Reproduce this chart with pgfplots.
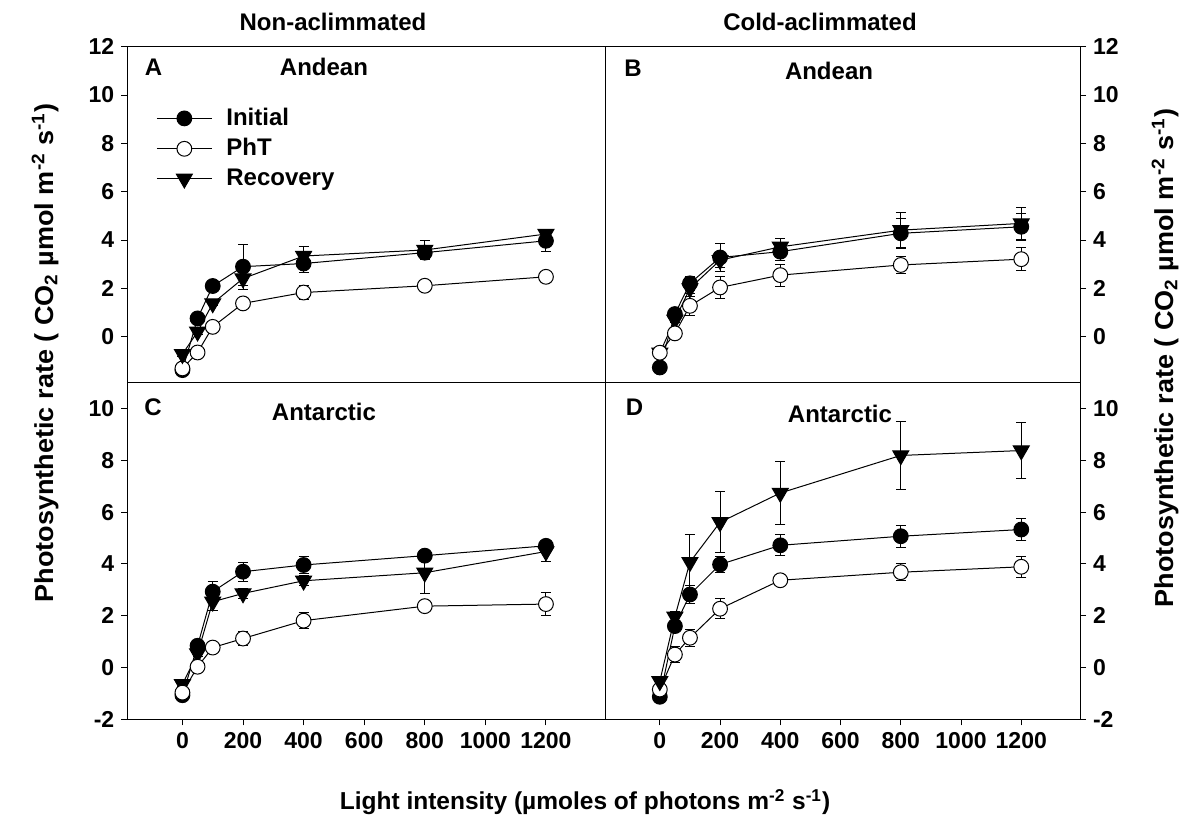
\documentclass[border=0pt]{standalone}
\usepackage{pgfplots}
\pgfplotsset{compat=1.18}
\usepackage{fontspec}
\setmainfont{Liberation Sans}
\newcommand{\tfont}{\fontsize{12}{14}\selectfont\bfseries}
\pgfplotsset{
 panel/.style={scale only axis, xmin=-182, xmax=1395,
   axis line style={line width=0.5pt},
   tick style={line width=0.5pt, black}, major tick length=3pt, tick align=outside,
   ticklabel style={font=\fontsize{11.5}{13}\selectfont\bfseries},
   /pgf/number format/assume math mode=true,
   /pgf/number format/1000 sep={},
   clip=false,
   every axis plot/.append style={line width=0.5pt, black},
   error bars/error bar style={line width=0.5pt},
   error bars/error mark options={rotate=90, mark size=2.5pt, line width=0.5pt}},
 toppan/.style={ymin=-1.9, ymax=12, ytick={0,2,...,12}, xtick=\empty, height=168pt},
 botpan/.style={ymin=-2, ymax=11, ytick={-2,0,...,10}, xtick={0,200,...,1200}, xtick pos=bottom, height=168.3pt},
 leftpan/.style={ytick pos=left, width=238.85pt},
 rightpan/.style={ytick pos=right, yticklabel pos=right, width=237.5pt},
 ini/.style={mark=*, mark size=3.7pt},
 pht/.style={mark=*, mark size=3.7pt, mark options={fill=white}},
 rec/.style={mark=triangle*, mark size=4.6pt, mark options={rotate=180}},
 eb/.style={error bars/.cd, y dir=both, y explicit},
}
\begin{document}
\begin{tikzpicture}
\useasboundingbox (0,0) rectangle (600pt,412.5pt);
% Panel A
\begin{axis}[panel, toppan, leftpan, at={(63.65pt,221.15pt)}, anchor=south west,
  legend style={draw=none, fill=none, at={(0.06,0.83)}, anchor=north west, font=\tfont, row sep=1pt, inner sep=0pt, cells={anchor=west}, nodes={inner xsep=7pt}},
  legend image code/.code={\draw[mark repeat=2,mark phase=2] plot coordinates {(0pt,0pt)(13.75pt,0pt)(27.5pt,0pt)};}]
\addplot[ini, eb] table[x=x,y=y,y error=e]{
x y e
0 -1.38 0.1
50 0.76 0.1
100 2.10 0.15
200 2.90 0.93
400 3.03 0.37
800 3.48 0.25
1200 3.97 0.45
};
\addlegendentry{Initial}
\addplot[pht, eb] table[x=x,y=y,y error=e]{
x y e
0 -1.31 0.1
50 -0.65 0.1
100 0.41 0.1
200 1.38 0.1
400 1.83 0.3
800 2.11 0.1
1200 2.48 0.1
};
\addlegendentry{PhT}
\addplot[rec, eb] table[x=x,y=y,y error=e]{
x y e
0 -0.72 0.1
50 0.21 0.1
100 1.38 0.1
200 2.41 0.3
400 3.34 0.4
800 3.59 0.38
1200 4.25 0.2
};
\addlegendentry{Recovery}
\end{axis}
% Panel B
\begin{axis}[panel, toppan, rightpan, at={(302.5pt,221.15pt)}, anchor=south west]
\addplot[ini, eb] table[x=x,y=y,y error=e]{
x y e
0 -1.27 0.1
50 0.94 0.1
100 2.21 0.3
200 3.28 0.58
400 3.52 0.35
800 4.28 0.62
1200 4.55 0.55
};
\addplot[rec, eb] table[x=x,y=y,y error=e]{
x y e
0 -0.66 0.1
50 0.70 0.1
100 2.00 0.2
200 3.17 0.3
400 3.72 0.35
800 4.41 0.72
1200 4.69 0.66
};
\addplot[pht, eb] table[x=x,y=y,y error=e]{
x y e
0 -0.66 0.1
50 0.14 0.1
100 1.28 0.38
200 2.04 0.45
400 2.55 0.45
800 2.97 0.35
1200 3.21 0.47
};
\end{axis}
% Panel C
\begin{axis}[panel, botpan, leftpan, at={(63.65pt,52.85pt)}, anchor=south west]
\addplot[rec, eb] table[x=x,y=y,y error=e]{
x y e
0 -0.65 0.1
50 0.54 0.1
100 2.54 0.35
200 2.86 0.2
400 3.35 0.2
800 3.66 0.8
1200 4.48 0.39
};
\addplot[ini, eb] table[x=x,y=y,y error=e]{
x y e
0 -1.07 0.2
50 0.84 0.1
100 2.93 0.39
200 3.70 0.36
400 3.96 0.32
800 4.32 0.2
1200 4.70 0.2
};
\addplot[pht, eb] table[x=x,y=y,y error=e]{
x y e
0 -0.97 0.1
50 0.03 0.1
100 0.77 0.1
200 1.12 0.28
400 1.81 0.3
800 2.37 0.1
1200 2.45 0.46
};
\end{axis}
% Panel D
\begin{axis}[panel, botpan, rightpan, at={(302.5pt,52.85pt)}, anchor=south west]
\addplot[ini, eb] table[x=x,y=y,y error=e]{
x y e
0 -1.13 0.1
50 1.60 0.1
100 2.82 0.35
200 3.98 0.32
400 4.72 0.41
800 5.07 0.43
1200 5.33 0.43
};
\addplot[pht, eb] table[x=x,y=y,y error=e]{
x y e
0 -0.85 0.1
50 0.50 0.3
100 1.15 0.33
200 2.27 0.38
400 3.37 0.1
800 3.68 0.32
1200 3.89 0.4
};
\addplot[rec, eb] table[x=x,y=y,y error=e]{
x y e
0 -0.53 0.1
50 1.96 0.22
100 4.07 1.07
200 5.61 1.18
400 6.74 1.21
800 8.19 1.32
1200 8.38 1.09
};
\end{axis}
% Texts
\node[font=\tfont] at (166.5pt,401.5pt) {Non-aclimmated};
\node[font=\tfont] at (410pt,401.5pt) {Cold-aclimmated};
\node[font=\tfont] at (76.75pt,379pt) {A};
\node[font=\tfont] at (162pt,379pt) {Andean};
\node[font=\tfont] at (316.5pt,378.25pt) {B};
\node[font=\tfont] at (414.5pt,377pt) {Andean};
\node[font=\tfont] at (76.5pt,209pt) {C};
\node[font=\tfont] at (162pt,206.5pt) {Antarctic};
\node[font=\tfont] at (317.25pt,209pt) {D};
\node[font=\tfont] at (420pt,205.75pt) {Antarctic};
\node[rotate=90, font=\fontsize{13}{15}\selectfont\bfseries] at (22.5pt,236pt) {\scalebox{1.04}[1]{Photosynthetic rate ( CO\textsubscript{2} µmol m\textsuperscript{-2} s\textsuperscript{-1})}};
\node[rotate=90, font=\fontsize{13}{15}\selectfont\bfseries] at (582.5pt,233.5pt) {\scalebox{1.04}[1]{Photosynthetic rate ( CO\textsubscript{2} µmol m\textsuperscript{-2} s\textsuperscript{-1})}};
\node[font=\fontsize{12.25}{14}\selectfont\bfseries] at (292.5pt,11.5pt) {Light intensity (µmoles of photons m\textsuperscript{-2} s\textsuperscript{-1})};
\end{tikzpicture}
\end{document}
